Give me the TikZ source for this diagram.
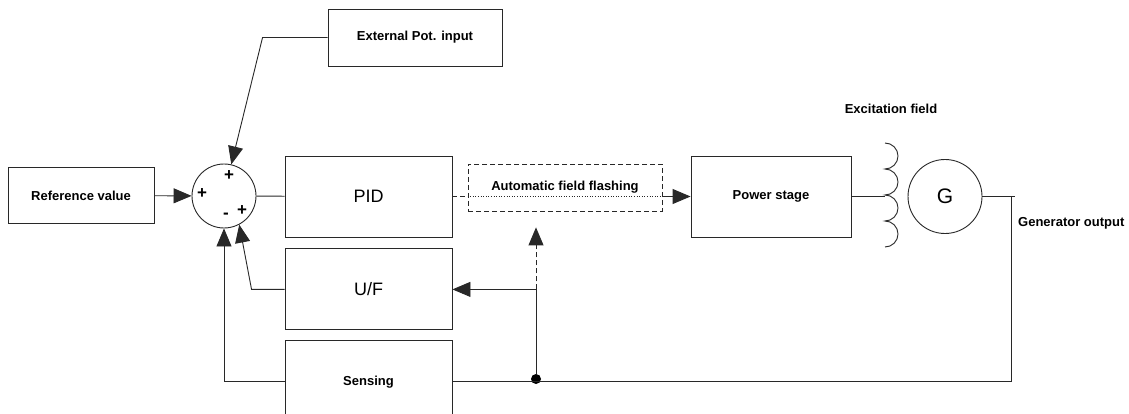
\documentclass[tikz,border=0pt]{standalone}
\usepackage{fontspec}
\setmainfont{Liberation Sans}
\usetikzlibrary{arrows.meta,positioning,calc}
\definecolor{linea}{RGB}{40, 40, 40}
\tikzset{
  bloque/.style={draw=linea,line width=0.9pt,minimum width=167pt,minimum height=81pt,
                 inner sep=0pt,font=\fontsize{18}{20}\selectfont},
  rotulo/.style={font=\fontsize{13}{15}\selectfont\bfseries,inner sep=0pt},
  paso/.style={-{Triangle[length=18pt,width=15pt]},line width=0.9pt,linea},
  enlace/.style={line width=0.9pt,linea},
  signo/.style={font=\fontsize{17}{17}\selectfont\bfseries,inner sep=0pt},
}

\begin{document}
\begin{tikzpicture}[x=1pt,y=-1pt,node distance=11pt]
    \useasboundingbox[fill=white] (0,0) rectangle (1129,414);
    % bloques
    \node[bloque,rotulo,minimum width=146pt,minimum height=56pt] (ref) at (81,195.5) {Reference value};
    \node[draw=linea,line width=0.9pt,circle,minimum size=64pt,inner sep=0pt] (sum) at (224,196) {};
    \node[bloque] (pid) at (368.5,196.5) {PID};
    \node[bloque,below=of pid] (uf) {U/F};
    \node[bloque,rotulo,below=10pt of uf,minimum height=82pt] (sens) {Sensing};
    \node[bloque,rotulo,minimum width=174pt,minimum height=57pt] (ext) at (415,37.5) {External Pot. input};
    \node[draw=linea,line width=0.9pt,dash pattern=on 5pt off 3pt,rotulo,minimum width=194pt,
          minimum height=47pt] (aff) at (565,187.5) {Automatic field flashing};
    \node[bloque,rotulo,minimum width=160pt] (pow) at (771,196.5) {Power stage};
    \node[draw=linea,line width=0.9pt,circle,minimum size=74pt,inner sep=0pt,
          font=\fontsize{21}{21}\selectfont] (gen) at (945,196.5) {G};
    \node[rotulo] (exc) at (891,109) {Excitation field};
    \node[rotulo,anchor=west] (out) at (1018,223) {Generator output};
    % signos del sumador
    \node[signo] at ($(sum.center)+(-22,-2)$) {+};
    \node[signo] at ($(sum.center)+(5,-20)$) {+};
    \node[signo] at ($(sum.center)+(2,20)$) {-};
    \node[signo] at ($(sum.center)+(18,15)$) {+};
    % bobina de excitacion
    \coordinate (bob) at (885,143);
    \draw[enlace] (bob) \foreach \k in {1,...,4} {arc[start angle=90,end angle=-90,radius=13pt]};
    % conexiones
    \coordinate (tap) at (1011,196.5);
    \coordinate (salida) at (1015,196.5);
    \node[circle,fill=black,minimum size=10pt,inner sep=0pt] (nudo) at (536,379) {};
    \draw[paso] (ref) -- (sum);
    \draw[paso] (ext.west) -- ++(-65,0) -- (sum.77);
    \draw[enlace] (sum) -- (pid);
    \draw[enlace,dash pattern=on 5pt off 3pt] (pid.east) -- (pid.east -| aff.west);
    \draw[enlace,line width=0.6pt,dotted] (pid.east -| aff.west) -- (pid.east -| aff.east);
    \draw[paso] (pid.east -| aff.east) -- (pow.west);
    \draw[enlace] (pow.east) -- (bob |- pow.east);
    \draw[enlace] (gen) -- (salida);
    \draw[enlace] (tap) |- (sens.east);
    \draw[paso] (nudo) |- (uf.east);
    \draw[paso,dash pattern=on 5pt off 3pt] (nudo |- uf.east) -- ++(0,-62);
    \draw[paso] (uf.west) -- ++(-33,0) -- (sum.-62);
    \draw[paso] (sens.west) -| (sum.south);
  \end{tikzpicture}
\end{document}
